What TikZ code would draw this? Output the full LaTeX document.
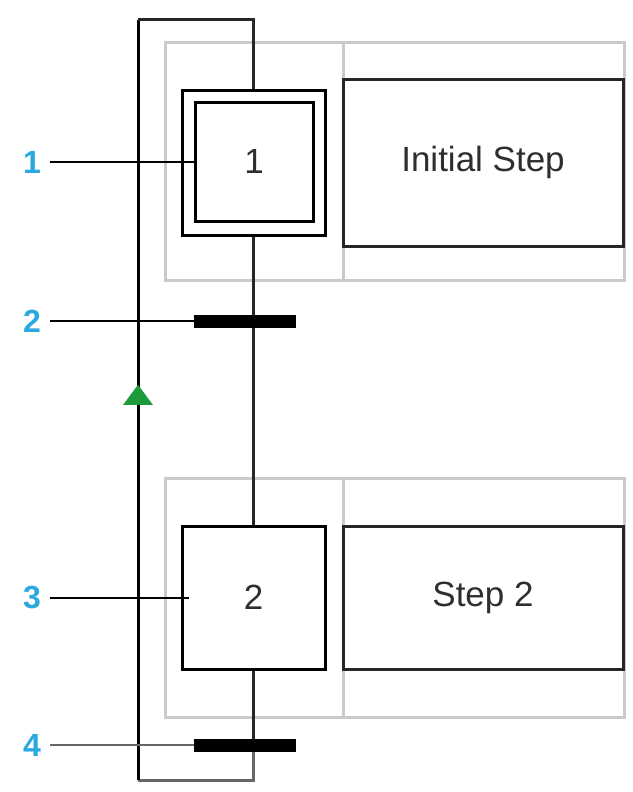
\documentclass[tikz,border=0pt]{standalone}
\usepackage{fontspec}
\setmainfont{Liberation Sans}
\usetikzlibrary{arrows.meta, decorations.markings}

\definecolor{callout}{HTML}{2AA8E0}
\definecolor{frameg}{HTML}{CACACA}
\definecolor{tokeng}{HTML}{1C9A3C}
\definecolor{inkg}{HTML}{2E2E2E}

\tikzset{
  frame/.style={draw=frameg, line width=3pt},
  stepbox/.style={draw=black, line width=3pt, minimum width=143pt, minimum height=143pt,
    inner sep=0pt, text=inkg, font=\fontsize{35}{40}\selectfont},
  actbox/.style={draw=black!85, line width=3pt, minimum width=280pt, minimum height=143pt,
    inner sep=0pt, text=inkg, font=\fontsize{35}{40}\selectfont},
  trbar/.style={fill=black, draw=none, minimum width=102pt, minimum height=13pt, inner sep=0pt},
  link/.style={draw=black!85, line width=3pt},
  callnum/.style={text=callout, font=\fontsize{32}{36}\selectfont\bfseries, inner sep=0pt},
  callline/.style={line width=2pt},
}

\begin{document}
\begin{tikzpicture}[x=1pt, y=-1pt]
  \useasboundingbox (0,0) rectangle (632,792);

  % Gray frames round step + action
  \draw[frame] (165,43) rectangle (624,280);
  \draw[frame] (343,43) -- (343,280);
  \draw[frame] (165,478) rectangle (624,717);
  \draw[frame] (343,478) -- (343,717);

  % Steps, actions and transitions
  \node[stepbox, minimum height=145pt] (s1) at (253.5,162.5) {};
  \node[stepbox, minimum width=118pt, minimum height=119pt] (s1in) at (254,161.5) {1};
  \node[actbox, minimum height=167pt] (a1) at (483,162.5) {Initial Step};

  \node[stepbox] (s2) at (253.5,597.5) {2};
  \node[actbox] (a2) at (483,597.5) {Step 2};

  \coordinate (lb) at (138,780);
  \coordinate (lt) at (138,20);

  % Links
  \draw[link] (s1.south) -- (253.5,321) -- (s2.north);
  \draw[link] (s2.south) -- (253.5,745);
  \draw[link, draw=black!60] (253.5,745) |- (lb);
  \draw[link, draw=black, postaction={decorate},
        decoration={markings, mark=at position 0.52 with
          {\arrow[tokeng]{Triangle[width=29pt, length=20pt]}}}]
    (lb) -- (lt);
  \draw[link] (lt) -| (s1.north);

  \node[trbar] (t1) at (245,321) {};
  \node[trbar] (t2) at (245,745) {};

  % Callouts
  \node[callnum] (n1) at (32,162) {1};
  \node[callnum] (n2) at (32,321) {2};
  \node[callnum] (n3) at (32,597) {3};
  \node[callnum] (n4) at (32,745) {4};

  \draw[callline] ([xshift=9pt]n1.east |- s1in.west) -- ([xshift=3pt]s1in.west);
  \draw[callline] ([xshift=9pt]n2.east |- t1.west) -- (t1.west);
  \draw[callline] ([xshift=9pt]n3.east |- s2.west) -- ([xshift=8pt]s2.west);
  \draw[callline, draw=black!60] ([xshift=9pt]n4.east |- t2.west) -- (t2.west);

\end{tikzpicture}
\end{document}
